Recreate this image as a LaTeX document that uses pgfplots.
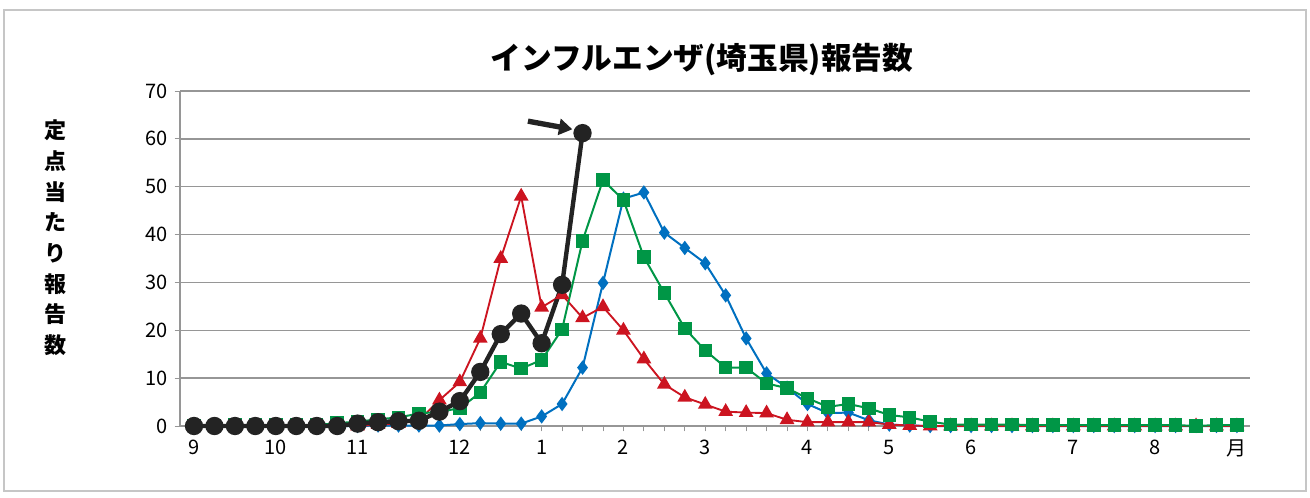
\documentclass[border=0pt]{standalone}
\usepackage{fontspec}
\setmainfont{Noto Sans CJK JP}
\usepackage{pgfplots}
\pgfplotsset{compat=1.18}
\usetikzlibrary{arrows.meta}
\definecolor{cred}{RGB}{204,20,32}
\definecolor{cgreen}{RGB}{0,150,70}
\definecolor{cblue}{RGB}{0,112,192}
\definecolor{cblack}{RGB}{35,35,35}
\definecolor{gridgray}{RGB}{150,150,150}

% weekly values, week 0 = first week of September
\pgfplotstableread{
w v
0 0
1 0
2 0
3 0
4 0
5 0
6 0
7 0
8 0.5
9 0.8
10 1.0
11 1.1
12 3.0
13 5.2
14 11.3
15 19.2
16 23.5
17 17.3
18 29.5
19 61.2
}\seasonnow

\pgfplotstableread{
w v
0 0
1 0
2 0
3 0
4 0
5 0
6 0
7 0
8 0
9 0.1
10 0.1
11 0.1
12 0.1
13 0.4
14 0.6
15 0.5
16 0.5
17 2.0
18 4.6
19 12.2
20 29.9
21 47.5
22 48.8
23 40.4
24 37.2
25 34.0
26 27.3
27 18.3
28 11.0
29 8.0
30 4.6
31 2.7
32 2.8
33 1.2
34 0.3
35 0.1
36 0
37 0
38 0
39 0
40 0
41 0
42 0
43 0
44 0
45 0
46 0
47 0
48 0
49 0
50 0
51 0
}\seasonblue

\pgfplotstableread{
w v
0 0.1
1 0.1
2 0.2
3 0.2
4 0.2
5 0.2
6 0.2
7 0.6
8 0.9
9 1.4
10 1.8
11 2.6
12 3.0
13 3.7
14 7.0
15 13.4
16 12.0
17 13.8
18 20.2
19 38.7
20 51.4
21 47.2
22 35.3
23 27.8
24 20.4
25 15.8
26 12.2
27 12.2
28 8.9
29 7.9
30 5.8
31 4.0
32 4.6
33 3.7
34 2.3
35 1.8
36 0.9
37 0.3
38 0.3
39 0.3
40 0.3
41 0.2
42 0.2
43 0.2
44 0.2
45 0.2
46 0.2
47 0.2
48 0.2
49 0.0
50 0.2
51 0.2
}\seasongreen

\pgfplotstableread{
w v
0 0
1 0
2 0
3 0
4 0
5 0
6 0
7 0
8 0
9 0.3
10 0.5
11 1.2
12 5.4
13 9.2
14 18.3
15 35.0
16 48.0
17 24.8
18 27.4
19 22.6
20 24.9
21 20.0
22 14.0
23 8.7
24 6.0
25 4.5
26 3.0
27 2.8
28 2.7
29 1.3
30 0.8
31 0.8
32 0.8
33 0.8
34 0.3
35 0.1
36 0
37 0
38 0
39 0
40 0
41 0
42 0
43 0
44 0
45 0
46 0
47 0
48 0
49 0
50 0
51 0
}\seasonred

\begin{document}
\begin{tikzpicture}
\useasboundingbox (0pt,0pt) rectangle (982.5pt,372.75pt);
\draw[gray!45, line width=1pt] (3pt,4.5pt) rectangle (979.5pt,365.25pt);

\node[font=\bfseries\fontsize{23}{23}\selectfont] at (526.5pt,327.75pt) {インフルエンザ(埼玉県)報告数};
\node[font=\bfseries\fontsize{16.5}{23}\selectfont, align=center] at (41.25pt,194.25pt)
  {定\\点\\当\\た\\り\\報\\告\\数};

\begin{axis}[
  at={(135pt,53.25pt)}, anchor=south west,
  scale only axis,
  width=802.5pt, height=251.25pt,
  xmin=-0.685, xmax=51.64,
  ymin=0, ymax=70,
  clip=false,
  axis x line*=bottom, axis y line*=left,
  axis line style={gridgray, line width=0.8pt},
  ytick={0,10,...,70},
  ymajorgrids,
  grid style={gridgray, line width=1pt},
  xtick={0,4,8,13,17,21,25,30,34,38,43,47,51},
  xticklabels={9,10,11,12,1,2,3,4,5,6,7,8,月},
  minor xtick={0,...,51},
  tick align=outside,
  major tick length=4pt, minor tick length=4pt,
  every tick/.style={gridgray, line width=0.7pt},
  major x tick style={draw=none},
  ticklabel style={font=\fontsize{15}{15}\selectfont, text=black},
  xticklabel style={yshift=-3pt},
  yticklabel style={xshift=-2pt},
  /pgf/number format/assume math mode=true,
]
\addplot[cblue, line width=1.5pt, mark=diamond*, mark size=4.2pt, mark options={solid}]
  table[x=w, y=v] {\seasonblue};
\addplot[cred, line width=1.4pt, mark=triangle*, mark size=5pt, mark options={solid}]
  table[x=w, y=v] {\seasonred};
\addplot[cgreen, line width=1.5pt, mark=square*, mark size=4.3pt, mark options={solid}]
  table[x=w, y=v] {\seasongreen};
\addplot[cblack, line width=3.3pt, mark=*, mark size=5.2pt, mark options={solid}]
  table[x=w, y=v] {\seasonnow};
\draw[cblack, line width=4pt, -{Triangle[length=10pt,width=12pt]}]
  (axis cs:16.33,63.7) -- (axis cs:18.5,62.0);
\end{axis}
\end{tikzpicture}
\end{document}
